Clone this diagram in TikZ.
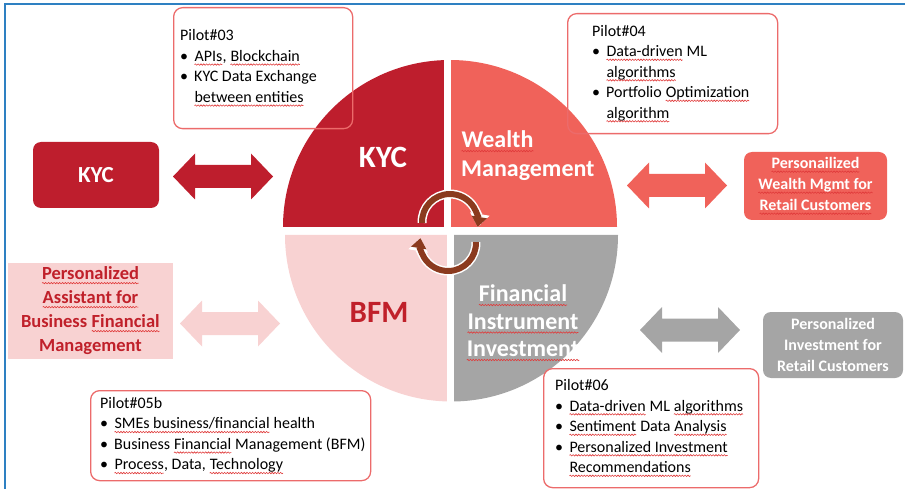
\documentclass[tikz,border=0pt]{standalone}
\usepackage{fontspec}
\setmainfont{Carlito}
\usetikzlibrary{arrows.meta,decorations.pathmorphing}
\definecolor{kycred}{HTML}{BE1E2D}
\definecolor{wealthred}{HTML}{F0625A}
\definecolor{bfmpink}{HTML}{F8D2D2}
\definecolor{fiigray}{HTML}{A5A5A5}
\definecolor{arcbrown}{HTML}{8B3A1E}
\definecolor{pilotline}{HTML}{EC6B6B}
\definecolor{frameblue}{HTML}{2E80C2}
\definecolor{bfmtext}{HTML}{C0202A}
\definecolor{sqred}{HTML}{E03A3A}
\tikzset{sqnode/.style={shape=rectangle, inner sep=0pt, outer sep=0pt, minimum width=0pt, minimum height=0pt, fill=none, draw=none, sharp corners, anchor=base}}
\newcommand{\sq}[1]{\tikz[baseline=(sqw.base),x=1pt,y=1pt]{\node[sqnode] (sqw) {#1}; \draw[sqred, fill=none, sharp corners, line width=0.6pt, decorate, decoration={snake, amplitude=0.7pt, segment length=2.8pt}] ([yshift=-3.2pt]sqw.base west) -- ([yshift=-3.2pt]sqw.base east);}}
\newcommand{\dblarrow}[4]{%
 \fill[#4] (#1,#3) -- (#1+22,#3-23) -- (#1+22,#3-11.5) -- (#2-22,#3-11.5) -- (#2-22,#3-23) -- (#2,#3) -- (#2-22,#3+23) -- (#2-22,#3+11.5) -- (#1+22,#3+11.5) -- (#1+22,#3+23) -- cycle;}
\newcommand{\bul}{\makebox[14pt][l]{\textbullet}}
\newcommand{\cont}{\hspace*{14pt}}
\tikzset{
 pilotbox/.style={draw=pilotline, line width=1.3, rounded corners=9, anchor=north west, inner sep=0},
 pilottext/.style={anchor=west, align=left, inner sep=0, font=\fontsize{16}{20.5}\selectfont},
 sidebox/.style={rounded corners=8, inner sep=0, align=center, text=white, font=\fontsize{16}{21}\selectfont\bfseries},
 arcout/.style={white, line width=9, -{Triangle[width=19,length=13]}},
 arcin/.style={arcbrown, line width=6, -{Triangle[width=15,length=10]}}
}
\begin{document}
\begin{tikzpicture}[x=1pt,y=-1pt]
\useasboundingbox (0,0) rectangle (905,489);
% frame
\draw[frameblue, line width=2] (5,489) -- (5,4) -- (905,4);
% circle quadrants
\coordinate (ct) at (450,227);
\coordinate (cb) at (451.5,235);
\fill[kycred] (ct) -- ++(180:167) arc[start angle=180, end angle=270, radius=167] -- cycle;
\fill[wealthred] (ct) -- ++(270:167) arc[start angle=270, end angle=360, radius=167] -- cycle;
\fill[fiigray] (cb) -- ++(0:166.5) arc[start angle=0, end angle=90, radius=166.5] -- cycle;
\fill[bfmpink] (cb) -- ++(90:166.5) arc[start angle=90, end angle=180, radius=166.5] -- cycle;
\fill[white] (444,55) rectangle (451,228);
\fill[white] (447,234) rectangle (454,405);
% cycle arcs
\coordinate (ua) at (450,222);
\coordinate (la) at (448,243);
\draw[arcout] (ua) ++(178:28) arc[start angle=178, end angle=370, radius=28];
\draw[arcin] (ua) ++(178:28) arc[start angle=178, end angle=370, radius=28];
\draw[arcout] (la) ++(-2:28) arc[start angle=-2, end angle=190, radius=28];
\draw[arcin] (la) ++(-2:28) arc[start angle=-2, end angle=190, radius=28];
% quadrant labels
\node[text=white, inner sep=0, font=\fontsize{31}{36}\selectfont\bfseries] (kyclbl) at (383,157) {KYC};
\node[text=white, inner sep=0, anchor=west, align=left, font=\fontsize{24}{29}\selectfont\bfseries] (wmlbl) at (461,156) {\sq{Wealth}\\Management};
\node[text=bfmtext, inner sep=0, font=\fontsize{31}{36}\selectfont\bfseries] (bfmlbl) at (379,312) {BFM};
\node[text=white, inner sep=0, align=center, font=\fontsize{24}{27.5}\selectfont\bfseries] (fiilbl) at (523,323) {\sq{Financial}\\\sq{Instrument}\\\sq{Investment}};
% side boxes
\node[sidebox, fill=kycred, minimum width=126, minimum height=66, font=\fontsize{23}{28}\selectfont\bfseries] (kycbox) at (96,175) {KYC};
\node[sidebox, rounded corners=0, fill=bfmpink, text=bfmtext, minimum width=165, minimum height=96, font=\fontsize{18.5}{24}\selectfont\bfseries] (bfmbox) at (90.5,311) {\sq{Personalized}\\\sq{Assistant for}\\Business \sq{Financial}\\Management};
\node[sidebox, fill=wealthred, minimum width=143, minimum height=68] (wmbox) at (815.5,186) {\sq{Personailized}\\\sq{Wealth Mgmt for}\\\sq{Retail Customers}};
\node[sidebox, fill=fiigray, minimum width=140, minimum height=66] (fiibox) at (833,345) {Personalized\\Investment for\\Retail Customers};
% double arrows
\dblarrow{173}{273}{176.5}{kycred}
\dblarrow{180}{280}{323.5}{bfmpink}
\dblarrow{627}{727}{185.5}{wealthred}
\dblarrow{640}{740}{330}{fiigray}
% pilot boxes
\node[pilotbox, minimum width=179, minimum height=121] (p3) at (173,7) {};
\node[pilottext] (p3t) at ([xshift=7]p3.west) {Pilot\#03\\\bul \sq{APIs}, \sq{Blockchain}\\\bul KYC Data Exchange\\\cont \sq{between entities}};
\node[pilotbox, minimum width=210, minimum height=120] (p4) at (567,13) {};
\node[pilottext] (p4t) at ([xshift=25]p4.west) {Pilot\#04\\\bul \sq{Data-driven} ML\\\cont \sq{algorithms}\\\bul Portfolio \sq{Optimization}\\\cont \sq{algorithm}};
\node[pilotbox, fill=white, minimum width=280, minimum height=90] (p5) at (90,390) {};
\node[pilottext] (p5t) at ([xshift=10]p5.west) {Pilot\#05b\\\bul \sq{SMEs business/financial} health\\\bul Business \sq{Financial} Management (BFM)\\\bul \sq{Process}, Data, \sq{Technology}};
\node[pilotbox, fill=white, minimum width=215, minimum height=119] (p6) at (543,368) {};
\node[pilottext] (p6t) at ([xshift=12]p6.west) {Pilot\#06\\\bul \sq{Data-driven} ML \sq{algorithms}\\\bul \sq{Sentiment} Data \sq{Analysis}\\\bul \sq{Personalized Investment}\\\cont \sq{Recommendations}};
\end{tikzpicture}
\end{document}
